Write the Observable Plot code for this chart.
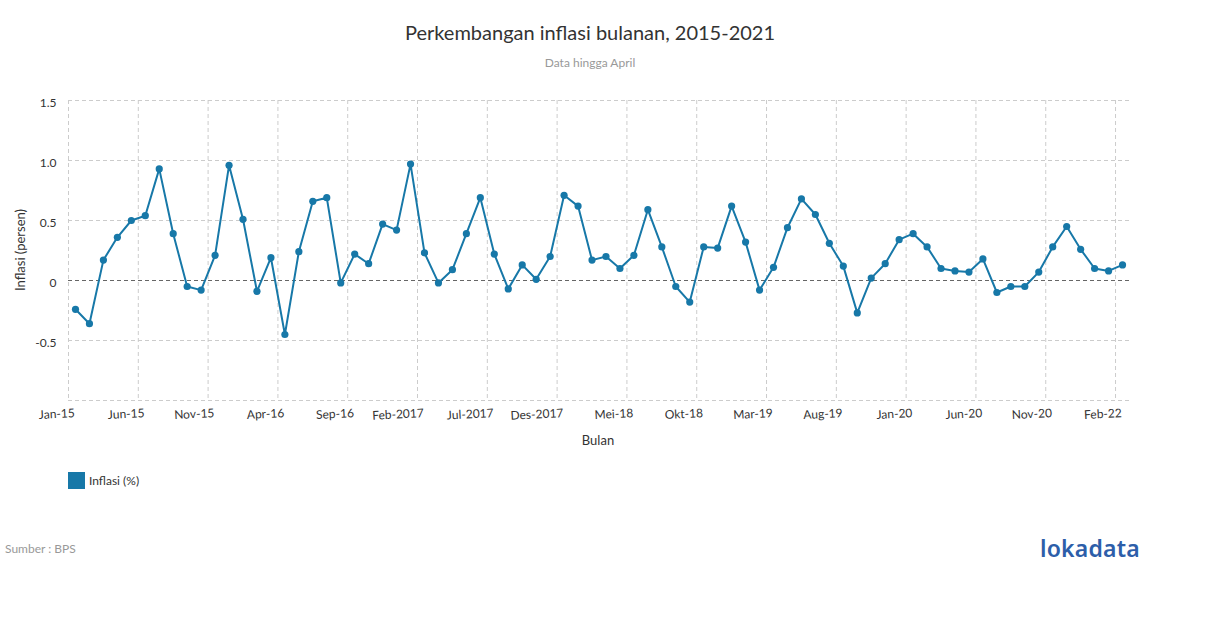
<!DOCTYPE html>
<html>
<head>
<meta charset="utf-8">
<script src="https://cdn.jsdelivr.net/npm/d3@7"></script>
<script src="https://cdn.jsdelivr.net/npm/@observablehq/plot@0.6"></script>
<style>
  html, body { margin: 0; padding: 0; background: #fff; }
  body { width: 1210px; height: 628px; position: relative; font-family: Lato, "Open Sans", sans-serif; overflow: hidden; }
  .abs { position: absolute; white-space: nowrap; }
  #title { top: 20px; left: 0; width: 1180px; text-align: center; font-size: 20px; color: #333; }
  #subtitle { top: 55px; left: 0; width: 1180px; text-align: center; font-size: 12px; color: #999; }
  #chart { position: absolute; top: 0; left: 0; }
  #xlabel { top: 432px; left: 498px; width: 200px; text-align: center; font-size: 13px; color: #333; }
  #ylabel { top: 250px; left: 20px; font-size: 13px; color: #333; transform: translate(-50%, -50%) rotate(-90deg); }
  #legend { top: 472px; left: 68px; font-size: 12px; color: #333; display: flex; align-items: center; }
  #legend .sw { width: 17px; height: 17px; background: #1778a8; margin-right: 4px; }
  #source { top: 541px; left: 5px; font-size: 12px; color: #999; }
  #logo { top: 532px; left: 1040px; font-family: "Noto Sans", sans-serif; font-weight: 600; font-size: 23px; color: #2d5ea9; letter-spacing: 0.2px; }
</style>
</head>
<body>
<div id="title" class="abs">Perkembangan inflasi bulanan, 2015-2021</div>
<div id="subtitle" class="abs">Data hingga April</div>
<div id="chart"></div>
<div id="xlabel" class="abs">Bulan</div>
<div id="ylabel" class="abs">Inflasi (persen)</div>
<div id="legend" class="abs"><div class="sw"></div><span>Inflasi (%)</span></div>
<div id="source" class="abs">Sumber : BPS</div>
<div id="logo" class="abs">lokadata</div>
<script>
// Monthly inflation (%), Jan 2015 – Apr 2021
const inflasi = [
  -0.24, -0.36, 0.17, 0.36, 0.50, 0.54, 0.93, 0.39, -0.05, -0.08, 0.21, 0.96,
  0.51, -0.09, 0.19, -0.45, 0.24, 0.66, 0.69, -0.02, 0.22, 0.14, 0.47, 0.42,
  0.97, 0.23, -0.02, 0.09, 0.39, 0.69, 0.22, -0.07, 0.13, 0.01, 0.20, 0.71,
  0.62, 0.17, 0.20, 0.10, 0.21, 0.59, 0.28, -0.05, -0.18, 0.28, 0.27, 0.62,
  0.32, -0.08, 0.11, 0.44, 0.68, 0.55, 0.31, 0.12, -0.27, 0.02, 0.14, 0.34,
  0.39, 0.28, 0.10, 0.08, 0.07, 0.18, -0.10, -0.05, -0.05, 0.07, 0.28, 0.45,
  0.26, 0.10, 0.08, 0.13
];
// Tick labels shown on the x axis (every 5th month), as in the source
const tickLabels = ["Jan-15", "Jun-15", "Nov-15", "Apr-16", "Sep-16", "Feb-2017", "Jul-2017", "Des-2017",
  "Mei-18", "Okt-18", "Mar-19", "Aug-19", "Jan-20", "Jun-20", "Nov-20", "Feb-22"];
const tickIndex = tickLabels.map((_, k) => k * 5);
const yTicks = [-0.5, 0, 0.5, 1, 1.5];
const yGrid = [-1, -0.5, 0.5, 1, 1.5];

const data = inflasi.map((v, i) => ({i, v}));
const labelOf = new Map(tickIndex.map((idx, k) => [idx, tickLabels[k]]));

const plot = Plot.plot({
  width: 1210,
  height: 460,
  marginTop: 100,
  marginBottom: 60,
  marginLeft: 68,
  marginRight: 81,
  style: {fontFamily: "Lato, 'Open Sans', sans-serif", fontSize: "12px", color: "#333", background: "transparent"},
  x: {type: "linear", domain: [-0.5, inflasi.length - 0.5]},
  y: {domain: [-1, 1.5]},
  marks: [
    Plot.ruleY(yGrid, {stroke: "#cccccc", strokeDasharray: "4,3", strokeWidth: 1}),
    Plot.ruleX(tickIndex.map(i => i - 0.5), {stroke: "#cccccc", strokeDasharray: "4,3", strokeWidth: 1}),
    Plot.ruleY([0], {stroke: "#666", strokeDasharray: "4,3", strokeWidth: 1}),
    Plot.axisY({ticks: yTicks, tickSize: 0, tickPadding: 12, tickFormat: d => d === 0 ? "0" : d.toFixed(1), label: null, dy: 3, fill: "#333"}),
    Plot.axisX({ticks: tickIndex, tickSize: 0, tickPadding: 8, tickRotate: -3, textAnchor: "end", dx: -1, tickFormat: i => labelOf.get(i), label: null, fill: "#333"}),
    Plot.line(data, {x: "i", y: "v", stroke: "#1778a8", strokeWidth: 2}),
    Plot.dot(data, {x: "i", y: "v", fill: "#1778a8", r: 3.6, stroke: "none"})
  ]
});
document.getElementById("chart").appendChild(plot);
</script>
</body>
</html>
